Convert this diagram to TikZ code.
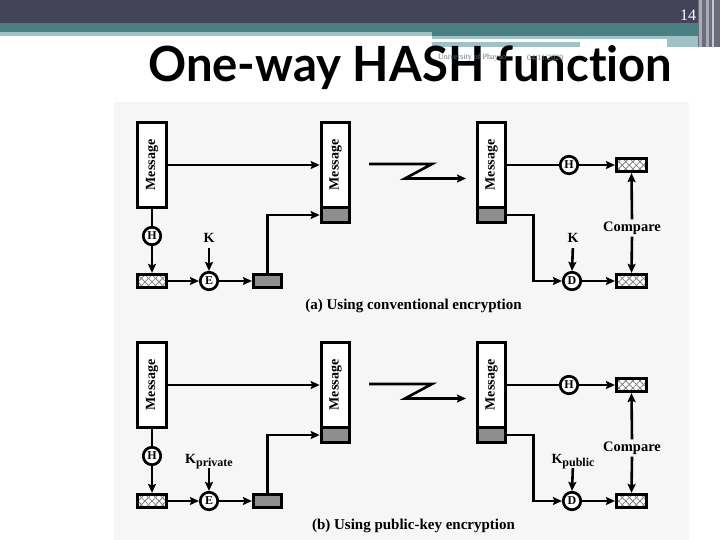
\documentclass[tikz,border=0pt]{standalone}
\usepackage{fontspec}
\usepackage{graphicx}
\setmainfont{Liberation Serif}
\newfontfamily\titlefont[Ligatures=CommonOff]{Lato}
\usetikzlibrary{patterns.meta,arrows.meta,calc}
\definecolor{barDark}{RGB}{67,68,88}
\definecolor{barTeal}{RGB}{74,127,131}
\definecolor{barLight}{RGB}{162,193,196}
\definecolor{panelBg}{RGB}{246,246,246}
\definecolor{boxGray}{RGB}{142,142,142}
\definecolor{smallTxt}{RGB}{100,120,128}
\definecolor{stripeMid}{RGB}{107,108,124}
\definecolor{stripeLight}{RGB}{170,171,182}
\definecolor{stripePale}{RGB}{200,201,208}
\tikzset{
  msgbox/.style={draw, line width=3.2pt, fill=white, minimum width=29pt, minimum height=85pt, inner sep=0pt,
    font=\bfseries\fontsize{14}{14}\selectfont},
  graybox/.style={draw, line width=3.2pt, fill=boxGray, minimum width=29pt, minimum height=15pt, inner sep=0pt},
  hashbox/.style={draw, line width=3.2pt, minimum width=30pt, minimum height=13pt, inner sep=0pt,
    preaction={fill=white},
    preaction={pattern={Lines[angle=45,distance=5pt,line width=0.8pt]}, pattern color=gray},
    preaction={pattern={Lines[angle=-45,distance=5pt,line width=0.8pt]}, pattern color=gray}},
  circ/.style={circle, draw, line width=2.7pt, fill=white, minimum size=17.5pt, inner sep=0pt,
    font=\bfseries\fontsize{12}{12}\selectfont},
  keylab/.style={anchor=base, inner sep=1pt, text depth=0pt, font=\bfseries\fontsize{14}{14}\selectfont},
  cmplab/.style={inner sep=2pt, font=\bfseries\fontsize{14.5}{14.5}\selectfont},
  caplab/.style={inner sep=0pt, font=\bfseries\fontsize{15}{15}\selectfont},
  ln/.style={line width=2.6pt},
  arr/.style={line width=2.6pt, -{Stealth[length=9pt,width=8pt,inset=1.5pt]}},
}
\newcommand\msgtext{\rotatebox{90}{Message}}
\newcommand\mypanel[5]{%
\begin{scope}[shift={(0,#2)}]
  \node[msgbox] (ma#1) at (152,165) {\msgtext};
  \node[msgbox, minimum width=28.5pt] (mb#1) at (335.5,165) {\msgtext};
  \node[graybox, minimum width=28.5pt, anchor=north, yshift=3.2pt] (gb#1) at (mb#1.south) {};
  \node[circ] (ha#1) at (152,236) {H};
  \node[hashbox, minimum width=29pt] (xa#1) at (152,281) {};
  \node[circ] (ea#1) at (209,281) {E};
  \node[keylab] (ka#1) at (209,243) {#3};
  \node[graybox, minimum width=28pt, minimum height=13pt] (sa#1) at (267.5,281) {};
  \coordinate (za#1) at (369,164);
  \coordinate (zb#1) at (432,164);
  \coordinate (zc#1) at (405,178.5);
  \coordinate (zd#1) at (466,178.5);
  \node[msgbox, minimum width=28.5pt] (mc#1) at (491.5,165) {\msgtext};
  \node[graybox, minimum width=28.5pt, anchor=north, yshift=3.2pt] (gc#1) at (mc#1.south) {};
  \node[circ] (hb#1) at (569,165) {H};
  \node[hashbox] (xb#1) at (631.5,165) {};
  \node[cmplab] (cp#1) at (632,228) {Compare};
  \node[hashbox] (xc#1) at (631.5,281) {};
  \node[circ] (db#1) at (572,281) {D};
  \node[keylab] (kb#1) at (573,243) {#4};
  \node[caplab] (cap#1) at (413.5,306) {#5};
  \draw[arr] (ma#1.east) -- (mb#1.west);
  \draw[ln] (ma#1.south) -- (ha#1.north);
  \draw[arr] (ha#1.south) -- (xa#1.north);
  \draw[arr] (xa#1.east) -- (ea#1.west);
  \draw[arr, shorten <=4pt] (ka#1.south) -- (ea#1.north);
  \draw[arr] (ea#1.east) -- (sa#1.west);
  \draw[arr] (sa#1.north) |- (gb#1.west);
  \draw[arr] (za#1) -- (zb#1) -- (zc#1) -- (zd#1);
  \draw[ln] (mc#1.east) -- (hb#1.west);
  \draw[arr] (hb#1.east) -- (xb#1.west);
  \draw[arr] (cp#1.north) -- (xb#1.south);
  \draw[arr] (cp#1.south) -- (xc#1.north);
  \draw[arr, shorten <=4pt] (kb#1.south) -- (db#1.north);
  \draw[arr] (gc#1.east) -- ++(26,0) |- (db#1.west);
  \draw[arr] (db#1.east) -- (xc#1.west);
\end{scope}}
\begin{document}
\begin{tikzpicture}[x=1pt,y=-1pt]
  \useasboundingbox (0,0) rectangle (720,540);
  \fill[white] (0,0) rectangle (720,540);
  % top bars
  \fill[barDark] (0,0) rectangle (698,23);
  \fill[barTeal] (0,23) rectangle (432,32);
  \fill[barLight] (0,32) rectangle (432,36);
  \fill[barTeal] (432,23) rectangle (698,36);
  \fill[barLight] (432,36) rectangle (698,47);
  \fill[white] (432,39.5) rectangle (667,42);
  \fill[white] (580,42) rectangle (667,47);
  \fill[stripeMid] (698,0) rectangle (720,47);
  \fill[stripeLight] (699,0) rectangle (702,47);
  \fill[stripeLight] (706,0) rectangle (708.5,47);
  \fill[stripePale] (712,0) rectangle (714,47);
  \node[text=white, anchor=base, inner sep=0pt, font=\fontsize{16}{16}\selectfont] (pnum) at (688,21) {14};
  % title
  \node[anchor=base west, inner sep=0pt] (title) at (148,82)
    {\resizebox{524pt}{36pt}{\titlefont\bfseries One-way HASH func\kern0pt tion}};
  \node[anchor=west, inner sep=0pt, text=smallTxt, font=\fontsize{8}{8}\selectfont] (uni) at (438,58) {University of Phayao};
  \node[anchor=west, inner sep=0pt, text=smallTxt, font=\fontsize{8}{8}\selectfont] (date) at (527,58) {04/11/2020};
  % diagram panel
  \fill[panelBg] (114,102) rectangle (689,540);
  \mypanel{A}{0}{K}{K}{(a) Using conventional encryption}
  \mypanel{B}{220}{K\raisebox{-3pt}{\fontsize{12}{12}\selectfont private}}{K\raisebox{-3pt}{\fontsize{12}{12}\selectfont public}}{(b) Using public-key encryption}
\end{tikzpicture}
\end{document}
